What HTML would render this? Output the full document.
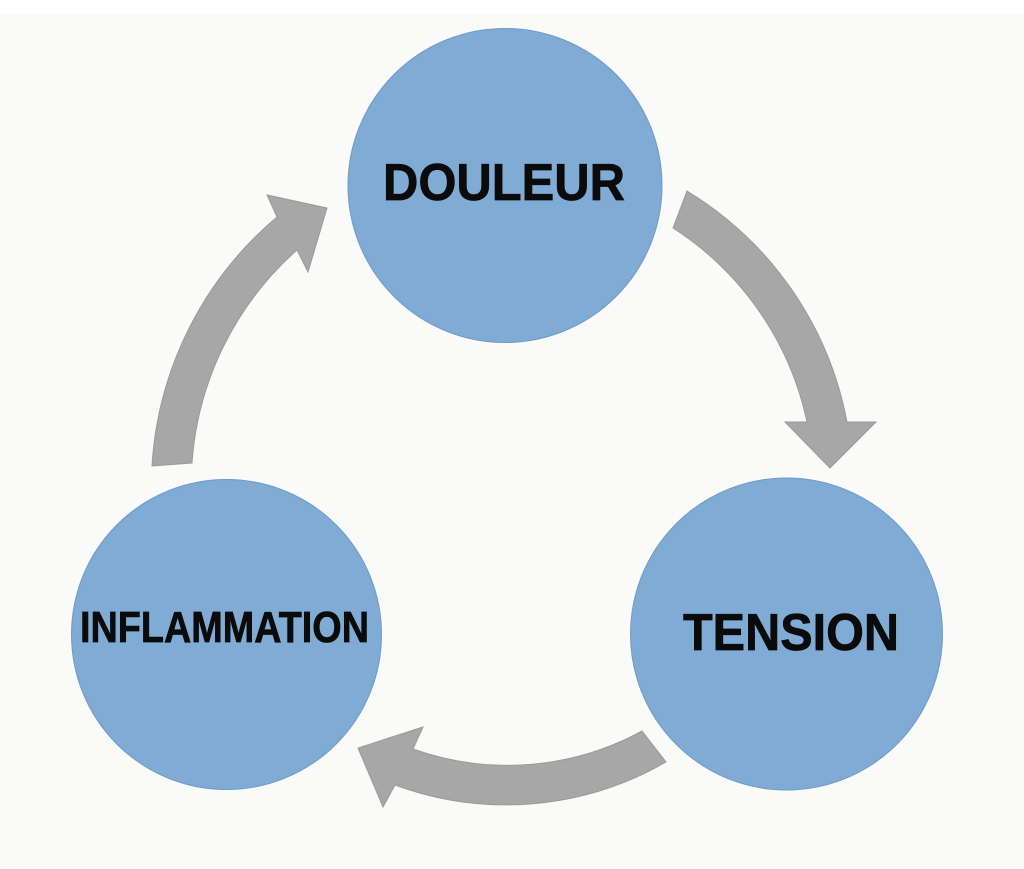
<!DOCTYPE html>
<html>
<head>
<meta charset="utf-8">
<style>
  html, body { margin: 0; padding: 0; background: #ffffff; }
  body { width: 1024px; height: 869px; overflow: hidden; }
  svg { display: block; }
  text { font-family: "Liberation Sans", "DejaVu Sans", sans-serif; font-weight: bold; fill: #0b0b0b; stroke: #0b0b0b; stroke-width: 0.7; }
</style>
</head>
<body>
<svg width="1024" height="869" viewBox="0 0 1024 869" xmlns="http://www.w3.org/2000/svg">
  <rect x="0" y="0" width="1024" height="869" fill="#ffffff"/>
  <rect x="0" y="14" width="1024" height="855" fill="#fafaf8"/>

  <!-- Arrows -->
  <g fill="#a7a7a7" stroke="#9a9a9a" stroke-width="1" stroke-linejoin="miter">
    <!-- right arrow: DOULEUR -> TENSION -->
    <path d="M673,228 L687,191 A345,345 0 0 1 847,422 L876,422 L830,468 L785,422 L807,422 A306,306 0 0 0 673,228 Z"/>
    <!-- bottom arrow: TENSION -> INFLAMMATION -->
    <path d="M642,731 A281,281 0 0 1 413,749 L423,727 L358,748 L383,807 L395,785 A320,320 0 0 0 666,762 Z"/>
    <!-- left arrow: INFLAMMATION -> DOULEUR -->
    <path d="M152,466 A353,353 0 0 1 277,217 L267,195 L327,208 L308,272 L297,250 A314,314 0 0 0 192,463 Z"/>
  </g>

  <!-- Circles -->
  <g fill="#7fabd5" stroke="#6d9cca" stroke-width="1">
    <circle cx="505" cy="185.5" r="157"/>
    <circle cx="786.5" cy="634" r="156"/>
    <circle cx="226.5" cy="634.5" r="155"/>
  </g>

  <!-- Labels -->
  <text x="383" y="200" font-size="52" textLength="242" lengthAdjust="spacingAndGlyphs">DOULEUR</text>
  <text x="683" y="650" font-size="52" textLength="216" lengthAdjust="spacingAndGlyphs">TENSION</text>
  <text x="80" y="642" font-size="44" textLength="289" lengthAdjust="spacingAndGlyphs">INFLAMMATION</text>
</svg>
</body>
</html>
